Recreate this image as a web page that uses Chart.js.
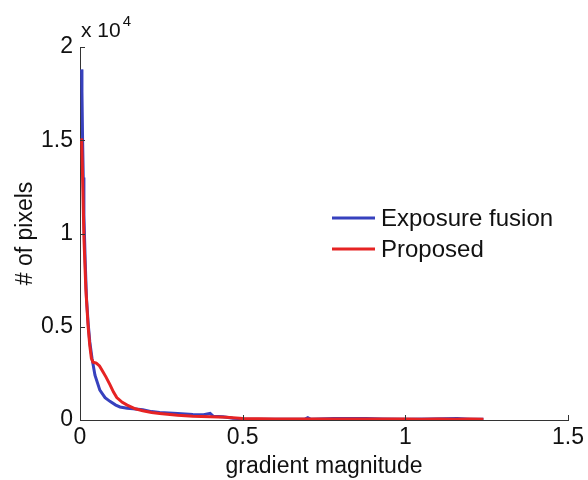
<!DOCTYPE html>
<html><head><meta charset="utf-8">
<script src="https://cdn.jsdelivr.net/npm/chart.js@4"></script>
<style>html,body{margin:0;padding:0;background:#fff}#wrap{width:588px;height:480px}</style>
</head><body><div id="wrap"><canvas id="c" width="588" height="480"></canvas></div>
<script>
const seriesNames = ["Exposure fusion", "Proposed"];
const xTicks = [0, 0.5, 1, 1.5];
const yTicks = [0, 0.5, 1, 1.5, 2];
const blueX = [0.005,0.006,0.008,0.01,0.012,0.016,0.02,0.025,0.03,0.037,0.046,0.061,0.077,0.092,0.11,0.123,0.145,0.163,0.193,0.22,0.245,0.3,0.347,0.38,0.40,0.41,0.44,0.47,0.5,0.6,0.69,0.7,0.71,0.78,0.88,0.93,1.0,1.07,1.16,1.2,1.24];
const blueY = [1.88,1.76,1.5,1.3,1.1,0.85,0.65,0.52,0.42,0.33,0.24,0.16,0.12,0.10,0.08,0.07,0.063,0.06,0.055,0.045,0.04,0.035,0.03,0.028,0.035,0.02,0.018,0.01,0.006,0.004,0.004,0.012,0.004,0.008,0.008,0.006,0.004,0.006,0.008,0.004,0.004];
const redX = [0.005,0.008,0.012,0.018,0.025,0.03,0.035,0.04,0.05,0.06,0.07,0.08,0.092,0.103,0.113,0.13,0.145,0.17,0.193,0.22,0.245,0.3,0.347,0.4,0.45,0.5,0.6,0.7,0.8,0.9,1.0,1.05,1.1,1.15,1.2,1.24];
const redY = [1.51,1.3,0.98,0.7,0.5,0.4,0.33,0.31,0.305,0.29,0.26,0.23,0.19,0.15,0.12,0.095,0.08,0.06,0.05,0.04,0.035,0.025,0.02,0.017,0.015,0.008,0.005,0.005,0.005,0.005,0.005,0.004,0.005,0.004,0.005,0.004];

const BLUE = 'rgb(55,65,190)';
const RED = 'rgb(230,35,35)';
const FONT = 'Liberation Sans, Arial, sans-serif';
const toPts = (xs, ys) => xs.map((x, i) => ({x, y: ys[i]}));

const decor = {
  id: 'decor',
  afterDraw(chart) {
    const ctx = chart.ctx, xs = chart.scales.x, ys = chart.scales.y;
    const a = chart.chartArea;
    ctx.save();
    ctx.strokeStyle = '#333'; ctx.lineWidth = 1;
    xTicks.forEach(v => { const p = Math.round(xs.getPixelForValue(v)) + 0.5;
      ctx.beginPath(); ctx.moveTo(p, a.bottom); ctx.lineTo(p, a.bottom - 5); ctx.stroke(); });
    yTicks.forEach(v => { const p = Math.round(ys.getPixelForValue(v)) + 0.5;
      ctx.beginPath(); ctx.moveTo(a.left, p); ctx.lineTo(a.left + 5, p); ctx.stroke(); });
    ctx.fillStyle = '#111'; ctx.textBaseline = 'alphabetic'; ctx.textAlign = 'left';
    ctx.font = '21px ' + FONT;
    ctx.fillText('x 10', a.left + 1, a.top - 10);
    const w = ctx.measureText('x 10').width;
    ctx.font = '15px ' + FONT;
    ctx.fillText('4', a.left + 3 + w, a.top - 21);
    const items = [[seriesNames[0], BLUE], [seriesNames[1], RED]];
    ctx.font = '24px ' + FONT; ctx.textBaseline = 'middle';
    items.forEach((it, i) => {
      const y = 218 + i * 31;
      ctx.strokeStyle = it[1]; ctx.lineWidth = 3;
      ctx.beginPath(); ctx.moveTo(332, y); ctx.lineTo(375, y); ctx.stroke();
      ctx.fillStyle = '#111'; ctx.fillText(it[0], 381, y + 1);
    });
    ctx.restore();
  }
};

new Chart(document.getElementById('c'), {
  type: 'line',
  data: { datasets: [
    { label: seriesNames[0], data: toPts(blueX, blueY), borderColor: BLUE, borderWidth: 3, pointRadius: 0, tension: 0, order: 1 },
    { label: seriesNames[1], data: toPts(redX, redY), borderColor: RED, borderWidth: 3, pointRadius: 0, tension: 0, order: 0 }
  ]},
  options: {
    responsive: false, animation: false,
    layout: { padding: { top: 47, right: 18, left: 0, bottom: 0 } },
    plugins: { legend: { display: false }, tooltip: { enabled: false } },
    scales: {
      x: { type: 'linear', min: 0, max: 1.5,
        afterBuildTicks: s => { s.ticks = xTicks.map(v => ({value: v})); },
        afterFit: s => { s.height = 60; },
        grid: { drawOnChartArea: false, drawTicks: false, color: 'rgba(0,0,0,0)' },
        border: { display: true, color: '#333', width: 1 },
        ticks: { color: '#111', font: { family: FONT, size: 23 }, padding: 4, maxRotation: 0, callback: v => String(v) },
        title: { display: true, text: 'gradient magnitude', color: '#111', font: { family: FONT, size: 23 }, padding: { top: 0, bottom: 0 } }
      },
      y: { min: 0, max: 2,
        afterBuildTicks: s => { s.ticks = yTicks.map(v => ({value: v})); },
        afterFit: s => { s.width = 80; },
        grid: { drawOnChartArea: false, drawTicks: false, color: 'rgba(0,0,0,0)' },
        border: { display: true, color: '#333', width: 1 },
        ticks: { color: '#111', font: { family: FONT, size: 23 }, padding: 7, callback: v => String(v) },
        title: { display: true, text: '# of pixels', color: '#111', font: { family: FONT, size: 23 }, padding: { top: 12, bottom: 0 } }
      }
    }
  },
  plugins: [decor]
});
</script></body></html>
